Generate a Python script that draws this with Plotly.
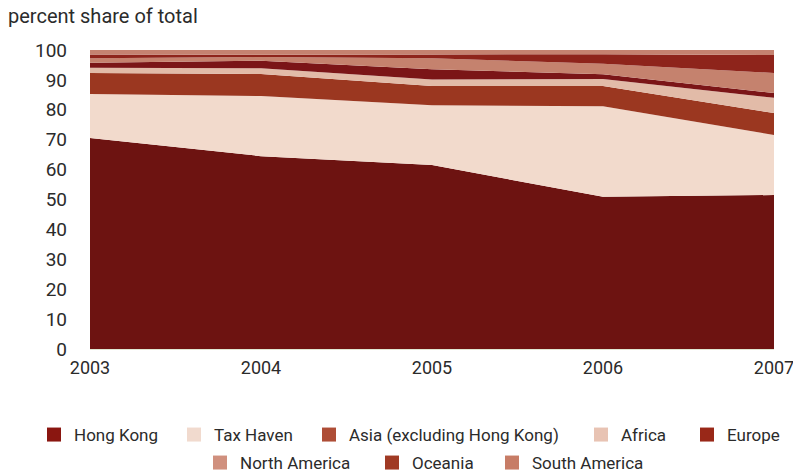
import plotly.graph_objects as go

years = [2003, 2004, 2005, 2006, 2007]
series_names = ["Hong Kong", "Tax Haven", "Asia (excluding Hong Kong)", "Africa",
                "Europe", "North America", "Oceania", "South America"]
hong_kong = [70.6, 64.5, 61.5, 50.9, 51.5]
tax_haven = [14.7, 20.1, 20.0, 30.3, 20.1]
asia_ex_hk = [7.0, 7.4, 6.5, 6.8, 7.3]
africa = [1.8, 1.9, 2.1, 2.3, 5.1]
europe = [1.6, 2.5, 3.5, 1.6, 1.6]
north_america = [1.5, 1.3, 3.6, 3.5, 6.7]
oceania = [1.3, 0.7, 1.3, 3.2, 6.0]
south_america = [1.5, 1.6, 1.5, 1.4, 1.7]
y_ticks = [0, 10, 20, 30, 40, 50, 60, 70, 80, 90, 100]

values = [hong_kong, tax_haven, asia_ex_hk, africa, europe, north_america, oceania, south_america]
area_colors = ["#6d1311", "#f2dacc", "#9b3720", "#e2bba8", "#7b1517", "#c5826e", "#8e241b", "#c58270"]
swatch_colors = ["#8a1610", "#f1dace", "#ae4d36", "#e8c3b3", "#992818", "#d0907e", "#a03a24", "#c77c66"]
# legend positions (window pixels): swatch left x, row center y
leg_pos = [(50, 435), (190, 435), (325, 435), (597, 435), (703, 435),
           (216, 463), (388, 463), (508, 463)]

W, H = 793, 474
FONT = "Roboto, Liberation Sans, sans-serif"
TXT = "#2b2b2b"

fig = go.Figure()
for name, vals, col in zip(series_names, values, area_colors):
    fig.add_trace(go.Scatter(
        x=years, y=vals, name=name, mode="none", stackgroup="one",
        fillcolor=col, line=dict(width=0), showlegend=False, hoverinfo="x+y+name"))

layout_legends = {}
for i, (name, col, (px, py)) in enumerate(zip(series_names, swatch_colors, leg_pos)):
    key = "legend" if i == 0 else f"legend{i+1}"
    fig.add_trace(go.Scatter(
        x=[None], y=[None], mode="markers", name=name, legend=key,
        marker=dict(symbol="square", size=14, color=col, line=dict(width=0)),
        showlegend=True))
    layout_legends[key] = dict(
        xref="container", yref="container",
        x=(px - 16) / W, y=1 - py / H, xanchor="left", yanchor="middle",
        orientation="h", bgcolor="rgba(0,0,0,0)", borderwidth=0,
        font=dict(family=FONT, size=17, color=TXT),
        itemclick=False, itemdoubleclick=False)

fig.update_layout(
    width=W, height=H,
    margin=dict(l=90, r=793 - 774, t=50, b=474 - 349, pad=0, autoexpand=False),
    paper_bgcolor="white", plot_bgcolor="white",
    font=dict(family=FONT, size=19, color=TXT),
    title=dict(text="percent share of total", x=8 / W, xanchor="left",
               y=1 - 16 / H, yanchor="middle", xref="container", yref="container",
               font=dict(family=FONT, size=20, color=TXT)),
    xaxis=dict(range=[2003, 2007], tickmode="array", tickvals=years,
               ticktext=[str(y) for y in years], showgrid=False, zeroline=False,
               showline=True, linecolor="#dfe8d3", linewidth=1, automargin=False,
               ticks="", ticklabelstandoff=2, ticklabeloverflow="allow",
               tickfont=dict(family=FONT, size=18, color=TXT)),
    yaxis=dict(range=[0, 100], tickmode="array", tickvals=y_ticks, automargin=False,
               showgrid=False, zeroline=False, showline=False, ticks="",
               ticklabelstandoff=22,
               tickfont=dict(family=FONT, size=19, color=TXT)),
    **layout_legends,
)

fig.write_html("out.html", config={"displayModeBar": False},
               post_script="document.body.style.margin='0';document.body.style.overflow='hidden';")
